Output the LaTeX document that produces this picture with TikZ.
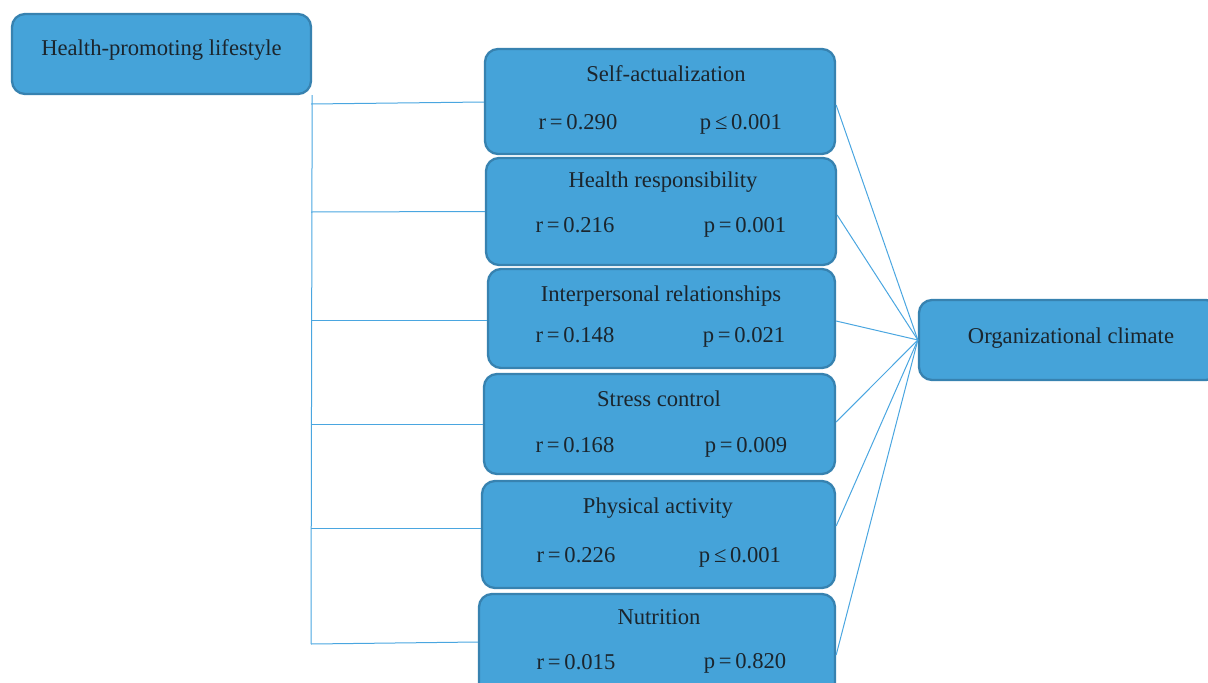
\documentclass[tikz,border=0pt]{standalone}
\usepackage{fontspec}
\setmainfont{Liberation Serif}
\definecolor{boxfill}{HTML}{45A3D9}
\definecolor{boxline}{HTML}{3782B0}
\definecolor{connline}{HTML}{4AA6E0}
\definecolor{txt}{HTML}{1B252D}
\begin{document}
\begin{tikzpicture}[x=1pt,y=-1pt,
  box/.style={draw=boxline,line width=2.3pt,fill=boxfill,rounded corners=13pt,inner sep=0pt},
  lbl/.style={text=txt,font=\fontsize{22.6}{26}\selectfont,inner sep=0pt,anchor=base},
  conn/.style={draw=connline,line width=1pt}]
\useasboundingbox (0,0) rectangle (1208,683);
\clip (0,0) rectangle (1208,683);
% boxes
\node[box,minimum width=299pt,minimum height=80pt] (hpl) at (161.5,54) {};
\node[box,minimum width=350pt,minimum height=105pt] (sa) at (660,101.5) {};
\node[box,minimum width=350pt,minimum height=107pt] (hr) at (661,211.5) {};
\node[box,minimum width=347pt,minimum height=99pt] (ir) at (661.5,318.5) {};
\node[box,minimum width=351pt,minimum height=100pt] (sc) at (659.5,424) {};
\node[box,minimum width=353pt,minimum height=107pt] (pa) at (658.5,534.5) {};
\node[box,minimum width=356pt,minimum height=106pt] (nu) at (657,647) {};
\node[box,minimum width=300pt,minimum height=80pt] (oc) at (1069,340) {};
% texts
\node[lbl] (hplt) at (161.5,55) {Health-promoting lifestyle};
\node[lbl] (ock) at (1071,343) {Organizational climate};
\node[lbl] (sat) at (666,81) {Self-actualization};
\node[lbl] (sar) at (578,129.5) {r\,=\,0.290};
\node[lbl] (sap) at (741,129.5) {p\,≤\,0.001};
\node[lbl] (hrt) at (663,187) {Health responsibility};
\node[lbl] (hrr) at (575,232) {r\,=\,0.216};
\node[lbl] (hrp) at (745,232) {p\,=\,0.001};
\node[lbl] (irt) at (661,301) {Interpersonal relationships};
\node[lbl] (irr) at (575,342.5) {r\,=\,0.148};
\node[lbl] (irp) at (744,342) {p\,=\,0.021};
\node[lbl] (sct) at (659,406.5) {Stress control};
\node[lbl] (scr) at (575,452) {r\,=\,0.168};
\node[lbl] (scp) at (746,452) {p\,=\,0.009};
\node[lbl] (pat) at (658,513.5) {Physical activity};
\node[lbl] (par) at (576,562.5) {r\,=\,0.226};
\node[lbl] (pap) at (740,562.5) {p\,≤\,0.001};
\node[lbl] (nut) at (659,624.5) {Nutrition};
\node[lbl] (nur) at (576,669) {r\,=\,0.015};
\node[lbl] (nup) at (745,668) {p\,=\,0.820};
% connectors left
\coordinate (t1) at (311,104);
\coordinate (t2) at (311,212);
\coordinate (t3) at (311,320);
\coordinate (t4) at (311,424);
\coordinate (t5) at (311,528);
\coordinate (t6) at (311,644);
\draw[conn] (hpl.south east) -- (t6);
\draw[conn] (t1) -- ([yshift=-0.5pt]sa.west);
\draw[conn] (t2) -- (hr.west);
\draw[conn] (t3) -- ([yshift=-1.5pt]ir.west);
\draw[conn] (t4) -- (sc.west);
\draw[conn] (t5) -- ([yshift=6.5pt]pa.west);
\draw[conn] (t6) -- ([yshift=5pt]nu.west);
% connectors right
\draw[conn] ([yshift=-3.5pt]sa.east) -- (oc.west);
\draw[conn] ([yshift=-3.5pt]hr.east) -- (oc.west);
\draw[conn] ([yshift=-2.5pt]ir.east) -- (oc.west);
\draw[conn] ([yshift=2pt]sc.east) -- (oc.west);
\draw[conn] ([yshift=8.5pt]pa.east) -- (oc.west);
\draw[conn] ([yshift=-8pt]nu.east) -- (oc.west);
\end{tikzpicture}
\end{document}
